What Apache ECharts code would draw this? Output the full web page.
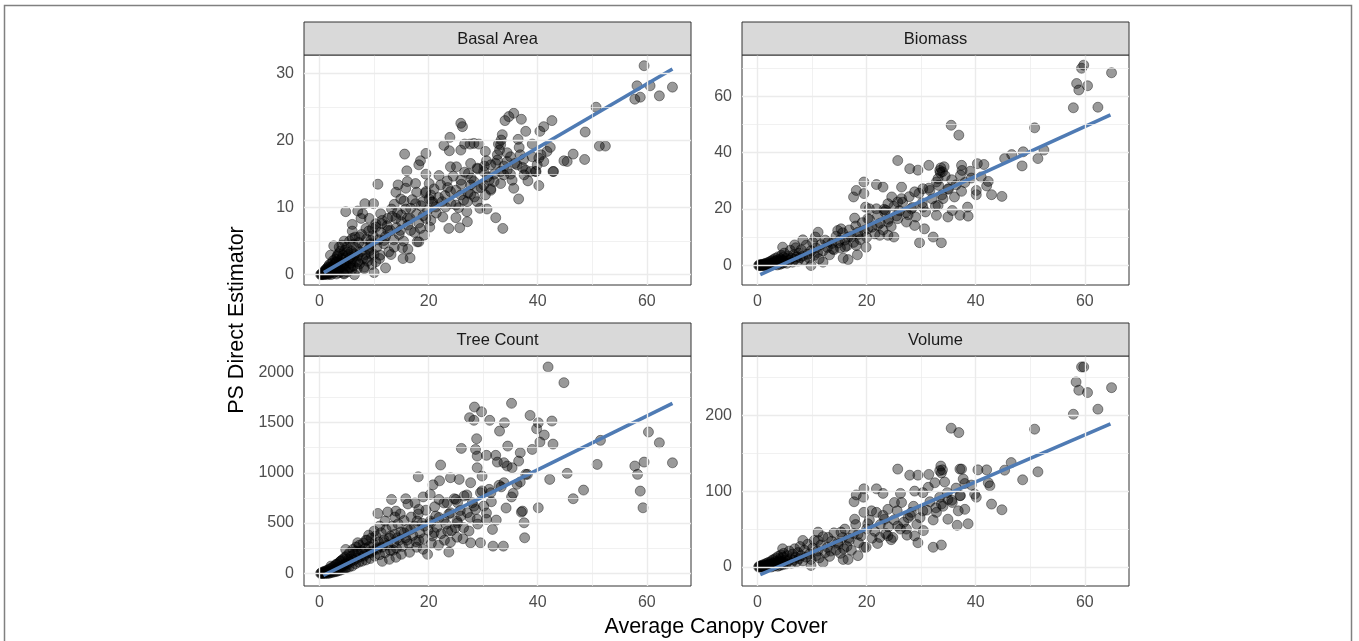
<!DOCTYPE html>
<html>
<head>
<meta charset="utf-8">
<title>PS Direct Estimator vs Average Canopy Cover</title>
<script src="https://cdn.jsdelivr.net/npm/echarts@6/dist/echarts.min.js"></script>
<style>
  html, body { margin: 0; padding: 0; background: #fff; }
  #main { width: 1359px; height: 641px; }
</style>
</head>
<body>
<div id="main"></div>
<script>
// facet names
var panelNames = ['Basal Area', 'Biomass', 'Tree Count', 'Volume'];

// x axis (shared)
var xTicks = [0, 20, 40, 60];
var xMinor = [10, 30, 50];

// y axis ticks per facet
var basalTicks = [0, 10, 20, 30];
var basalMinor = [5, 15, 25];
var biomassTicks = [0, 20, 40, 60];
var biomassMinor = [10, 30, 50, 70];
var treeTicks = [0, 500, 1000, 1500, 2000];
var treeMinor = [250, 750, 1250, 1750];
var volumeTicks = [0, 100, 200];
var volumeMinor = [50, 150, 250];

// fitted lines (end points)
var basalFit = [[0.8, 0.3], [64.7, 30.7]];
var biomassFit = [[0.5, -3.2], [64.7, 53.4]];
var treeFit = [[0.7, -20], [64.7, 1690]];
var volumeFit = [[0.5, -10], [64.7, 188.6]];

// points: [average canopy cover, PS direct estimator]
var basalPts = [
  [0.2,0.0],[0.3,0.1],[0.4,0.0],[0.5,0.2],[0.5,0.0],[0.6,0.1],[0.7,0.3],[0.8,0.0],[0.8,0.2],[0.9,0.4],
  [1.0,0.1],[1.0,0.3],[1.1,0.6],[1.2,0.1],[1.2,0.8],[1.3,0.3],[1.4,0.0],[1.4,1.0],[1.5,0.5],[1.6,0.2],
  [1.6,1.2],[1.7,0.6],[1.8,0.1],[1.8,1.5],[1.9,0.8],[2.0,0.3],[2.1,1.0],[2.1,0.0],[2.2,1.7],[2.3,0.5],
  [2.4,1.2],[2.5,0.2],[2.5,2.1],[2.6,0.8],[2.7,1.5],[2.8,0.4],[2.9,2.3],[3.0,1.0],[3.1,0.1],[3.1,1.8],
  [3.2,2.7],[3.3,0.6],[3.4,1.3],[3.5,3.1],[3.6,0.3],[3.6,2.0],[3.7,1.0],[3.8,3.5],[3.9,1.6],[4.0,0.5],
  [4.0,2.4],[4.1,4.4],[4.2,1.2],[4.3,2.9],[4.4,0.2],[4.5,1.8],[4.6,3.6],[4.7,0.8],[4.8,2.5],[4.9,1.4],
  [5.0,4.1],[5.1,0.4],[5.2,2.1],[5.3,3.0],[5.4,1.0],[5.5,5.0],[5.6,2.6],[5.7,1.7],[5.8,3.5],[5.9,0.7],
  [6.0,2.3],[6.1,4.5],[6.2,1.3],[6.4,3.1],[6.5,5.6],[6.6,2.0],[6.8,3.9],[6.9,0.9],[7.0,2.8],[7.2,4.8],
  [7.3,1.6],[7.5,3.4],[7.7,6.0],[7.9,2.4],[8.0,4.2],[8.2,1.1],[8.4,3.0],[8.6,5.3],[8.8,2.0],[9.0,6.5],
  [9.2,3.6],[9.4,4.6],[9.6,1.5],[9.8,5.8],[10.0,3.0],[10.3,7.1],[10.5,4.1],[10.8,5.2],[11.0,2.4],[11.2,6.3],
  [11.5,8.1],[11.8,4.6],[12.1,5.7],[12.4,7.3],[12.7,3.4],[13.0,6.6],[13.3,8.7],[13.6,5.2],[14.1,7.0],[14.3,9.3],
  [14.6,6.0],[15.0,7.9],[15.4,5.0],[15.8,9.8],[16.2,7.4],[16.6,8.4],[17.0,11.2],[17.4,6.3],[17.8,9.0],[18.2,7.7],
  [18.6,10.3],[19.0,8.8],[19.4,12.2],[19.8,9.6],[20.2,7.1],[20.6,10.8],[21.0,12.8],[21.4,9.2],[21.8,11.5],[22.2,13.4],
  [22.6,8.6],[23.0,11.8],[23.5,13.0],[24.1,10.6],[24.5,14.7],[25.0,12.6],[25.5,10.0],[26.0,13.5],[26.6,15.3],[27.2,12.2],
  [27.8,14.4],[28.4,11.6],[29.0,15.8],[29.6,13.0],[30.2,16.2],[30.8,14.6],[31.4,12.8],[32.0,15.0],[32.6,17.1],[33.2,13.6],
  [33.8,16.2],[34.4,18.2],[35.0,15.0],[35.8,16.6],[36.6,19.0],[37.4,17.2],[38.2,14.0],[39.0,17.6],
  [25.9,22.6],[26.2,22.1],[23.9,20.5],[35.6,24.1],[34.7,23.6],[34.0,23.0],[37.0,23.2],[22.8,19.3],[23.8,18.5],[19.5,18.1],
  [15.6,18.0],[18.5,17.0],[16.0,15.5],[18.2,16.4],[19.5,15.0],[20.1,13.6],[10.7,13.5],[8.3,10.6],[9.9,10.6],[4.8,9.4],
  [7.0,9.5],[7.9,9.1],[9.1,8.4],[6.0,6.5],[2.6,4.3],[2.0,2.9],[10.0,0.3],[12.1,1.0],[15.3,2.4],[16.6,2.5],
  [18.2,4.9],[33.6,6.9],[32.3,8.5],[30.7,9.8],[29.4,9.9],[27.0,9.4],[25.7,7.0],[23.7,6.9],[27.1,7.9],[25.0,8.5],
  [36.5,11.3],[35.6,12.9],[40.2,13.3],[39.7,15.4],[37.8,15.6],[42.8,15.4],[36.4,20.2],[37.8,21.4],[40.4,21.4],[41.1,22.1],
  [42.6,23.0],[42.3,19.0],[39.0,19.5],[40.6,17.9],[41.7,18.4],[33.5,20.9],[33.3,20.1],[33.2,19.4],[32.8,19.5],[33.0,18.6],
  [32.6,17.9],[30.4,18.4],[29.2,19.5],[28.3,19.6],[27.6,19.5],[26.6,19.5],[25.9,18.6],[30.6,17.0],[28.9,15.9],[27.7,16.6],
  [25.1,16.1],[24.0,16.1],[21.9,14.8],[23.4,14.0],[25.9,14.1],[27.3,15.1],[30.1,15.4],[34.4,15.6],[37.2,16.0],[38.7,15.4],
  [35.3,14.1],[33.8,14.9],[32.0,13.9],[31.4,12.6],[30.4,11.9],[28.9,10.9],[27.7,12.0],[26.4,11.1],[24.0,12.4],[22.5,10.9],
  [21.3,10.1],[23.1,10.1],[25.0,10.4],[27.7,13.4],[20.4,11.9],[18.9,10.9],[17.6,10.6],[16.7,9.9],[16.1,8.4],[15.0,8.9],
  [14.9,11.3],[13.7,10.5],[14.0,12.3],[15.8,12.9],[14.4,13.4],[15.5,11.0],[16.1,13.9],[17.6,13.6],[17.8,12.3],[20.1,11.3],
  [19.5,12.4],[20.7,10.9],[19.5,8.4],[20.4,8.1],[18.5,6.9],[19.2,5.9],[16.7,6.6],[15.2,4.0],[13.7,4.1],[13.1,3.0],
  [11.8,5.1],[12.5,6.6],[11.4,7.6],[12.5,8.4],[11.2,9.1],[13.2,9.8],[14.0,8.4],[14.8,6.6],[16.2,3.8],[17.9,4.9],
  [11.1,2.9],[10.3,1.9],[8.5,2.4],[9.1,3.9],[9.4,5.1],[7.3,5.6],[8.5,6.9],[9.7,6.9],[10.3,7.6],[7.6,8.4],
  [6.0,7.5],[6.0,5.4],[4.5,5.0],[3.6,4.1],[3.3,2.9],[5.1,3.4],[6.4,2.9],[7.0,1.9],[5.7,1.1],[4.5,1.6],
  [3.0,1.9],[1.8,1.1],[0.9,0.6],[4.5,0.1],[6.4,0.0],[8.2,0.9],[9.4,3.1],
  [33.2,15.4],[34.4,16.9],[35.0,17.6],[36.2,16.4],[37.5,14.9],[39.9,16.4],[40.2,17.4],[41.1,16.9],[36.8,17.9],[31.4,16.4],
  [32.3,16.6],[31.1,14.1],[30.1,13.4],[28.3,13.9],[28.9,12.9],[27.1,10.9],[25.9,11.9],
  [59.5,31.2],[58.2,28.2],[60.6,28.2],[64.7,28.0],[62.3,26.7],[57.8,26.2],[58.8,26.5],[50.7,25.0],[48.7,21.3],[51.3,19.2],
  [52.4,19.2],[46.5,18.0],[44.8,17.0],[45.4,16.9],[48.6,17.2],[42.9,15.4],[39.6,15.4]
];

var biomassPts = [
  [0.2,0.0],[0.3,0.2],[0.4,0.0],[0.5,0.3],[0.6,0.1],[0.7,0.0],[0.8,0.4],[0.9,0.2],[1.0,0.0],[1.1,0.5],
  [1.2,0.2],[1.3,0.0],[1.4,0.7],[1.5,0.3],[1.6,0.1],[1.7,0.9],[1.8,0.4],[1.9,0.0],[2.0,1.1],[2.1,0.5],
  [2.2,0.2],[2.3,1.4],[2.4,0.7],[2.5,0.1],[2.6,1.7],[2.7,0.9],[2.8,0.3],[2.9,2.1],[3.0,1.0],[3.1,0.4],
  [3.2,1.6],[3.3,2.6],[3.4,0.6],[3.5,1.3],[3.6,0.2],[3.7,2.0],[3.8,3.1],[3.9,0.9],[4.0,1.6],[4.1,0.4],
  [4.2,2.4],[4.3,1.2],[4.4,3.6],[4.5,0.7],[4.6,1.9],[4.7,2.9],[4.8,1.0],[4.9,4.4],[5.0,1.6],[5.2,2.5],
  [5.4,0.8],[5.6,3.4],[5.8,1.9],[6.0,5.4],[6.2,2.6],[6.4,1.2],[6.6,3.8],[6.8,2.2],[7.0,6.3],[7.2,3.0],
  [7.4,1.6],[7.6,4.4],[7.8,2.8],[8.0,5.6],[8.3,3.4],[8.6,2.0],[8.9,7.2],[9.2,4.0],[9.5,2.6],[9.8,5.2],
  [10.1,8.2],[10.4,3.6],[10.7,6.2],[11.0,4.6],[11.3,2.4],[11.6,7.4],[12.0,5.2],[12.4,9.0],[12.8,6.4],[13.2,3.8],
  [13.6,7.8],[14.0,5.6],[14.4,10.4],[14.8,8.0],[15.2,6.2],[15.6,11.6],[16.0,9.0],[16.4,7.0],[16.8,12.6],[17.2,10.2],
  [17.6,8.2],[18.0,14.0],[18.4,11.0],[18.8,9.2],[19.2,15.2],[19.6,12.4],[20.0,10.0],[20.5,16.4],[21.0,13.6],[21.5,11.2],
  [22.0,17.8],[22.5,15.0],[23.0,12.6],[23.5,19.6],[24.0,16.4],[24.5,13.8],[25.0,21.0],[25.5,17.6],[26.0,19.4],[26.6,22.4],
  [27.2,18.8],[27.8,24.4],[28.4,20.6],[29.0,17.2],[29.6,25.6],[30.2,22.2],[30.8,19.0],[31.4,27.4],[32.0,23.6],[32.6,21.0],
  [33.2,28.4],[33.8,25.0],[34.4,31.8],[35.0,27.0],[35.6,30.4],[36.4,28.6],[37.2,32.0],[38.0,29.4],[39.0,33.4],
  [25.7,37.2],[27.9,34.3],[29.4,33.8],[31.4,35.5],[33.4,33.7],[33.5,32.9],[33.1,30.8],[37.4,35.5],[37.5,33.7],[40.3,36.1],
  [41.5,35.8],[41.0,31.4],[42.3,29.8],[42.0,28.2],[40.1,26.6],[40.1,25.1],[39.2,31.0],[37.4,26.3],[36.1,24.3],[35.7,19.5],
  [37.1,17.8],[38.6,17.5],[38.5,20.7],[34.9,17.2],[34.0,23.7],[32.8,17.8],[32.2,10.1],[33.7,8.1],[29.7,8.1],[30.6,13.0],
  [28.8,14.2],[27.3,15.4],[25.7,16.6],[25.0,10.1],[23.9,10.7],[22.4,10.7],[20.2,16.6],[19.8,20.7],[20.5,20.1],[21.8,20.1],
  [23.2,19.9],[23.9,21.9],[19.5,29.6],[18.1,26.6],[19.5,25.5],[17.6,24.3],[21.8,28.7],[23.0,27.8],[25.7,22.5],[26.4,27.8],
  [28.8,26.1],[30.3,27.2],[31.6,26.6],[32.8,29.6],[34.9,27.2],[33.1,21.3],[30.3,20.7],[28.2,20.1],[27.6,18.0],[26.4,23.7],
  [24.6,24.3],[23.3,19.0],[17.8,16.8],[15.3,13.0],[14.7,12.4],[12.9,8.3],[11.1,11.8],[10.6,10.1],[8.3,9.1],[6.8,7.3],
  [4.6,6.5],[9.8,0.0],[12.0,1.2],[15.7,2.6],[16.6,2.1],[18.3,3.8],[19.9,6.5],[18.1,7.1],[16.0,6.5],[13.8,5.9],
  [15.0,8.9],[16.6,10.1],[18.4,11.8],[20.2,13.0],[22.0,14.2],[23.9,15.4],[33.6,34.6],[33.9,33.2],[34.2,35.0],
  [59.8,71.0],[59.4,69.9],[64.9,68.3],[58.5,64.5],[60.5,63.7],[58.9,62.2],[57.9,55.9],[62.4,56.1],[50.8,48.8],[35.5,49.7],
  [36.9,46.2],[52.5,40.9],[51.4,37.9],[48.7,40.3],[48.5,35.3],[46.6,39.3],[45.3,37.9],[44.8,24.5],[42.9,25.1]
];

var treePts = [
  [0.2,0],[0.3,6],[0.4,0],[0.5,12],[0.6,3],[0.7,0],[0.8,18],[0.9,7],[1.0,0],[1.1,24],
  [1.2,10],[1.3,2],[1.4,31],[1.5,14],[1.6,0],[1.7,40],[1.8,17],[1.9,5],[2.0,47],[2.1,24],
  [2.2,9],[2.3,58],[2.4,30],[2.5,13],[2.6,66],[2.7,37],[2.8,16],[2.9,79],[3.0,44],[3.1,20],
  [3.2,90],[3.3,50],[3.4,26],[3.5,104],[3.6,58],[3.7,31],[3.8,118],[3.9,66],[4.0,36],[4.1,131],
  [4.2,77],[4.3,43],[4.4,146],[4.5,86],[4.6,49],[4.7,160],[4.8,97],[4.9,55],
  [5.0,176],[5.1,92],[5.3,141],[5.4,63],[5.5,205],[5.7,118],[5.8,170],[6.0,74],[6.1,238],[6.3,131],
  [6.4,189],[6.6,96],[6.7,262],[6.9,150],[7.0,211],[7.2,112],[7.3,279],[7.5,168],[7.7,226],[7.8,121],
  [8.0,300],[8.2,187],[8.4,249],[8.5,134],[8.7,330],[8.9,205],[9.1,266],[9.3,148],[9.5,352],[9.7,221],
  [9.9,288],[10.1,172],[10.3,372],[10.6,240],[10.8,309],[11.0,186],[11.3,404],[11.5,261],[11.8,333],[12.0,205],
  [12.2,436],[12.5,282],[12.8,350],[13.0,228],[13.3,468],[13.6,305],[13.8,389],[14.1,250],[14.4,492],[14.6,330],
  [14.9,412],[15.2,268],[15.5,525],[15.8,355],[16.1,438],[16.4,292],[16.8,560],[17.1,378],[17.4,470],[17.7,315],
  [18.1,590],[18.4,402],[18.8,498],[19.1,345],[19.5,628],[19.9,430],[20.3,521],[20.7,372],[21.1,662],[21.5,458],
  [21.9,556],[22.3,395],[22.8,700],[23.2,489],[23.7,590],[24.2,425],[24.7,742],[25.2,520],[25.8,625],[26.4,455],
  [27.0,780],[27.6,556],[28.3,668],[29.0,490],[29.8,820],[30.6,600],[31.5,712],[32.4,530],[33.3,860],[34.2,650],
  [35.2,760],
  [16.5,210],[17.8,260],[19.0,240],[20.5,300],[21.8,280],[22.9,330],[24.0,310],[25.2,360],[26.3,345],[19.8,190],
  [18.2,330],[21.0,405],[23.5,420],[24.9,455],[15.0,190],[14.0,160],[12.8,140],[11.5,120],[13.5,230],[16.0,330],
  [9.0,380],[10.0,420],[11.0,470],[12.0,520],[8.5,330],[12.5,610],[14.8,590],[16.2,690],[17.5,700],[19.0,760],
  [20.8,880],[22.0,920],[13.8,560],
  [13.2,735],[15.8,742],[10.7,596],[14.0,619],[18.2,636],[20.3,785],[21.9,735],[23.4,702],[24.0,951],[25.6,934],
  [27.7,901],[28.9,1050],[29.8,967],[30.6,1173],[32.3,1173],[32.6,1106],[33.8,1100],[34.5,1265],[34.4,1067],[35.3,1050],
  [36.5,1116],[36.8,1199],[36.2,885],[35.5,795],[38.1,984],[36.8,908],[32.9,875],[31.1,835],[29.5,802],[30.1,669],
  [28.6,636],[27.1,603],[25.3,503],[24.0,603],[22.8,537],[21.3,570],[20.4,503],[19.2,470],[17.9,520],[16.7,437],
  [15.5,404],[14.3,354],[13.0,371],[11.8,305],[10.6,255],[9.4,205],[8.2,172],[7.0,305],[6.7,222],[5.7,139],
  [4.8,238],[3.9,123],[3.0,89],[2.1,73],[27.4,421],[25.9,570],[25.0,735],[26.5,769],[28.0,702],[28.9,537],
  [30.6,537],[31.7,437],[31.4,802],[33.8,901],[37.2,619],[25.3,702],[28.6,1232],[28.9,1166],
  [41.9,2051],[44.8,1895],[64.7,1099],[60.3,1405],[62.3,1298],[57.8,1067],[59.5,1106],[58.3,984],[58.8,818],[59.3,652],
  [51.5,1322],[50.9,1083],[48.4,828],[46.5,742],[45.4,994],[42.2,934],[42.8,1285],[42.6,1514],[41.2,1375],[40.4,1305],
  [40.1,652],[40.1,1497],[39.8,1437],[38.6,1570],[37.8,984],[37.0,609],[37.5,503],[37.6,354],[39.0,1232],[35.2,1690],
  [33.9,1497],[31.2,1521],[29.7,1606],[28.4,1653],[27.5,1547],[28.3,1521],[33.0,1414],[28.8,1338],[26.0,1242],[22.2,1077],
  [18.1,960],[33.7,271],[31.8,271],[23.7,212],[27.7,304],[29.5,304]
];

var volumePts = [
  [0.2,0],[0.3,1],[0.4,0],[0.5,1],[0.6,0],[0.7,2],[0.8,0],[0.9,1],[1.0,3],[1.1,0],
  [1.2,2],[1.3,1],[1.4,4],[1.5,0],[1.6,2],[1.7,5],[1.8,1],[1.9,3],[2.0,6],[2.1,1],
  [2.2,4],[2.3,2],[2.4,7],[2.5,0],[2.6,3],[2.7,9],[2.8,5],[2.9,1],[3.0,10],[3.1,4],
  [3.2,2],[3.3,7],[3.4,12],[3.5,3],[3.6,6],[3.7,1],[3.8,14],[3.9,5],[4.0,8],[4.1,2],
  [4.2,11],[4.3,16],[4.4,4],[4.5,7],[4.6,3],[4.7,13],[4.8,18],[4.9,6],[5.0,9],[5.2,4],
  [5.4,15],[5.6,8],[5.8,21],[6.0,11],[6.2,5],[6.4,17],[6.6,9],[6.8,24],[7.0,13],[7.2,7],
  [7.4,19],[7.6,11],[7.8,27],[8.0,15],[8.3,8],[8.6,22],[8.9,13],[9.2,30],[9.5,17],[9.8,10],
  [10.1,25],[10.4,35],[10.7,15],[11.0,21],[11.3,12],[11.6,29],[12.0,40],[12.4,19],[12.8,26],[13.2,14],
  [13.6,34],[14.0,45],[14.4,22],[14.8,30],[15.2,18],[15.6,39],[16.0,50],[16.4,27],[16.8,35],[17.2,22],
  [17.6,44],[18.0,56],[18.5,32],[19.0,41],[19.5,26],[20.0,50],[20.5,62],[21.0,38],[21.5,47],[22.0,31],
  [22.5,56],[23.0,68],[23.5,44],[24.0,53],[24.5,36],[25.0,62],[25.6,74],[26.2,50],[26.8,59],[27.4,42],
  [28.0,68],[28.6,80],[29.2,56],[29.8,65],[30.4,48],[31.0,75],[31.6,86],[32.2,62],[32.8,72],[33.4,92],
  [34.0,80],[34.8,98],[35.6,88],[36.4,104],[37.2,94],[38.0,110],
  [25.7,129],[27.9,121],[29.4,121],[31.4,122],[33.4,127],[33.7,124],[34.3,112],[37.1,129],[37.4,129],[40.4,128],
  [42.0,128],[42.3,111],[42.6,107],[39.8,96],[40.1,92],[39.2,108],[37.7,116],[37.1,94],[35.7,85],[36.8,74],
  [38.0,76],[38.6,57],[36.6,55],[34.9,63],[33.7,83],[32.2,26],[33.7,29],[29.4,32],[28.8,41],[27.3,50],
  [25.7,54],[24.8,39],[23.9,41],[22.4,39],[20.2,57],[19.5,72],[20.9,74],[21.8,72],[23.9,76],[19.5,103],
  [18.1,95],[19.4,92],[17.7,86],[21.8,103],[23.0,97],[26.2,97],[26.4,85],[28.8,100],[30.3,98],[31.3,105],
  [32.5,111],[34.9,89],[32.7,78],[30.3,74],[28.2,72],[27.6,65],[25.1,85],[23.3,63],[17.8,63],[15.3,46],
  [11.1,46],[8.3,35],[4.6,24],[9.8,2],[12.0,6],[15.7,10],[16.6,10],[18.4,15],[19.9,26],[15.8,24],
  [13.4,21],[11.1,35],[12.9,39],[14.7,32],[16.7,38],[18.4,43],[33.6,133],[33.9,128],
  [59.4,263.6],[59.8,263.6],[64.9,236.3],[58.4,243.8],[58.9,232.9],[60.5,229.8],[57.9,201.3],[62.4,207.9],[50.8,181.6],[35.5,182.9],
  [36.9,177.1],[46.5,137.6],[51.4,125.4],[48.6,114.9],[45.3,127.6],[44.8,75.4],[42.9,82.9]
];

var FONT = '"Liberation Sans", Arial, Helvetica, sans-serif';
var W = 387, H = 230;
var panels = [
  { pts: basalPts, fit: basalFit, ticks: basalTicks, minor: basalMinor, ymin: -1.55, ymax: 32.8, left: 304, top: 55 },
  { pts: biomassPts, fit: biomassFit, ticks: biomassTicks, minor: biomassMinor, ymin: -6.9, ymax: 74.6, left: 742, top: 55 },
  { pts: treePts, fit: treeFit, ticks: treeTicks, minor: treeMinor, ymin: -125, ymax: 2160, left: 304, top: 356 },
  { pts: volumePts, fit: volumeFit, ticks: volumeTicks, minor: volumeMinor, ymin: -25, ymax: 278, left: 742, top: 356 }
];

var myChart = echarts.init(document.getElementById('main'));

// plain numbers, no thousands separator
var plain = function (v) { return String(v); };

var grids = [], xAxes = [], yAxes = [], series = [];
var graphics = [
  // outer frame
  { type: 'rect', z: 0, shape: { x: 4.5, y: 5.5, width: 1347, height: 660 },
    style: { fill: 'none', stroke: '#808080', lineWidth: 1.5 } }
];

panels.forEach(function (p, i) {
  grids.push({
    left: p.left, top: p.top, width: W, height: H,
    show: true, backgroundColor: '#fff', borderColor: '#333', borderWidth: 1
  });
  xAxes.push({
    type: 'value', gridIndex: i, min: -2.85, max: 68.1,
    axisLine: { show: false },
    splitLine: { show: false },
    axisTick: { show: true, customValues: xTicks, length: 5, lineStyle: { color: '#333', width: 1 } },
    axisLabel: { customValues: xTicks, formatter: plain, color: '#4d4d4d', fontSize: 16, fontFamily: FONT, margin: 9 }
  });
  yAxes.push({
    type: 'value', gridIndex: i, min: p.ymin, max: p.ymax,
    axisLine: { show: false },
    splitLine: { show: false },
    axisTick: { show: true, customValues: p.ticks, length: 5, lineStyle: { color: '#333', width: 1 } },
    axisLabel: { customValues: p.ticks, formatter: plain, color: '#4d4d4d', fontSize: 16, fontFamily: FONT, margin: 10 }
  });

  // panel grid lines (major + minor)
  var gl = [];
  xTicks.forEach(function (v) { gl.push({ xAxis: v, lineStyle: { width: 1.4 } }); });
  xMinor.forEach(function (v) { gl.push({ xAxis: v, lineStyle: { width: 0.7 } }); });
  p.ticks.forEach(function (v) { gl.push({ yAxis: v, lineStyle: { width: 1.4 } }); });
  p.minor.forEach(function (v) { gl.push({ yAxis: v, lineStyle: { width: 0.7 } }); });
  series.push({
    type: 'line', xAxisIndex: i, yAxisIndex: i, data: [], z: 1, silent: true,
    markLine: {
      silent: true, animation: false, symbol: ['none', 'none'],
      label: { show: false },
      lineStyle: { color: '#ebebeb', type: 'solid' },
      emphasis: { disabled: true },
      data: gl
    }
  });

  series.push({
    name: panelNames[i], type: 'scatter', xAxisIndex: i, yAxisIndex: i,
    data: p.pts, symbolSize: 10, z: 3,
    itemStyle: { color: 'rgba(0,0,0,0.5)', borderColor: 'rgba(0,0,0,0.5)', borderWidth: 1 }
  });
  series.push({
    type: 'line', xAxisIndex: i, yAxisIndex: i, data: p.fit, z: 4,
    showSymbol: false, symbol: 'none',
    lineStyle: { color: '#4F7BB4', width: 3.6 }
  });

  // facet strip
  graphics.push({ type: 'rect', z: 10, shape: { x: p.left, y: p.top - 33, width: W, height: 33 },
    style: { fill: '#d9d9d9', stroke: '#333', lineWidth: 1 } });
  graphics.push({ type: 'text', z: 11, x: p.left + W / 2, y: p.top - 16,
    style: { text: panelNames[i], fill: '#1a1a1a', font: '16.5px ' + FONT, align: 'center', verticalAlign: 'middle' } });
});

// axis titles
graphics.push({ type: 'text', z: 11, x: 716, y: 627,
  style: { text: 'Average Canopy Cover', fill: '#000', font: '21.5px ' + FONT, align: 'center', verticalAlign: 'middle' } });
graphics.push({ type: 'text', z: 11, x: 237, y: 320, rotation: Math.PI / 2,
  style: { text: 'PS Direct Estimator', fill: '#000', font: '21.5px ' + FONT, align: 'center', verticalAlign: 'middle' } });

myChart.setOption({
  animation: false,
  backgroundColor: '#fff',
  grid: grids,
  xAxis: xAxes,
  yAxis: yAxes,
  series: series,
  graphic: graphics
});
</script>
</body>
</html>
